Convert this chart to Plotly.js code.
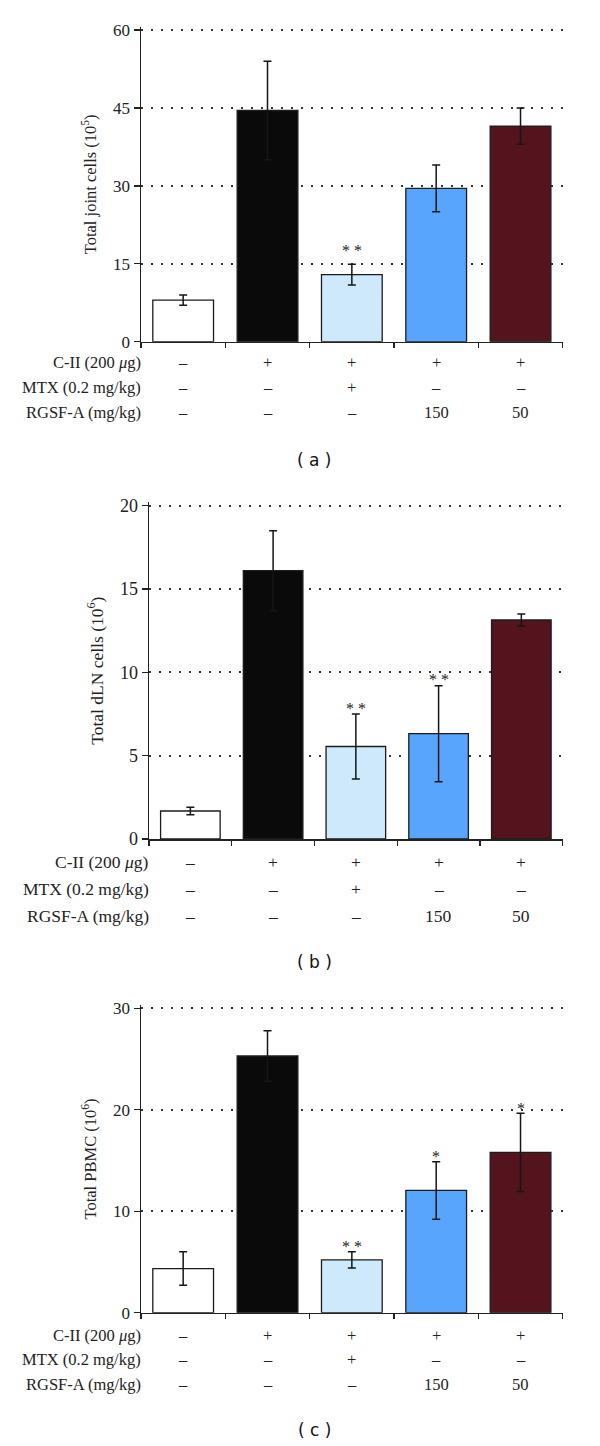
<!DOCTYPE html>
<html><head><meta charset="utf-8">
<script src="https://cdn.plot.ly/plotly-3.0.1.min.js"></script>
<style>html,body{margin:0;padding:0;background:#fff}#chart{width:600px;height:1446px}</style>
</head><body><div id="chart"></div>
<script>
// ---- data ----
const groups = [0, 1, 2, 3, 4];
const barColors = ['#ffffff', '#0a0a0a', '#cde9fb', '#58a5fd', '#53141e'];

const jointCells = [8.0, 44.5, 12.9, 29.5, 41.5];
const jointErr   = [1.0, 9.5, 2.0, 4.5, 3.5];
const jointSig   = ['', '', '* *', '', ''];

const dlnCells = [1.68, 16.1, 5.55, 6.32, 13.14];
const dlnErr   = [0.23, 2.4, 1.95, 2.88, 0.36];
const dlnSig   = ['', '', '* *', '* *', ''];

const pbmcCells = [4.35, 25.3, 5.2, 12.05, 15.8];
const pbmcErr   = [1.65, 2.5, 0.8, 2.83, 3.85];
const pbmcSig   = ['', '', '* *', '*', '*'];

const rowLabels = ['C-II (200 <i>\u03bc</i>g)', 'MTX (0.2 mg/kg)', 'RGSF-A (mg/kg)'];
const rowCII  = ['\u2013', '+', '+', '+', '+'];
const rowMTX  = ['\u2013', '\u2013', '+', '\u2013', '\u2013'];
const rowRGSF = ['\u2013', '\u2013', '\u2013', '150', '50'];

const panelLetters = ['( a )', '( b )', '( c )'];
const yTitles = ['Total joint cells (10<sup>5</sup>)', 'Total dLN cells (10<sup>6</sup>)', 'Total PBMC (10<sup>6</sup>)'];
const yMax = [60, 20, 30];
const yDticks = [15, 5, 10];

// ---- layout geometry (px) ----
const W = 600, H = 1446;
const PAD = 1.01; // small headroom so the top dotted gridline is not clipped
const SERIF = 'Liberation Serif, Times New Roman, serif';
const SANS = 'DejaVu Sans, Verdana, sans-serif';
const panels = [
  {vals: jointCells, err: jointErr, sig: jointSig, x0: 141, x1: 562.7, top: 30, bottom: 341.7,
   rows: [362.5, 388, 412.5], letterY: 460, font: 16.5, tick: 17, sigShift: 10},
  {vals: dlnCells, err: dlnErr, sig: dlnSig, x0: 149, x1: 562.7, top: 505.7, bottom: 839,
   rows: [861.5, 889, 916], letterY: 962, font: 17.5, tick: 18, sigShift: 2},
  {vals: pbmcCells, err: pbmcErr, sig: pbmcSig, x0: 141, x1: 562.7, top: 1008.3, bottom: 1312.7,
   rows: [1335, 1359.5, 1384.3], letterY: 1430, font: 16.5, tick: 17, sigShift: 1}
];
const rowsData = [rowCII, rowMTX, rowRGSF];

const traces = [];
const annotations = [];
const layout = {
  width: W, height: H,
  margin: {l: 0, r: 0, t: 0, b: 0},
  paper_bgcolor: '#ffffff', plot_bgcolor: '#ffffff',
  showlegend: false,
  font: {family: SERIF, color: '#222'}
};

panels.forEach((p, k) => {
  const s = k === 0 ? '' : String(k + 1);
  const topPx = p.bottom - (p.bottom - p.top) * PAD;
  traces.push({
    type: 'bar', x: groups, y: p.vals,
    xaxis: 'x' + s, yaxis: 'y' + s,
    width: 0.72,
    marker: {color: barColors, line: {color: '#1c1c1c', width: 1.3}},
    error_y: {type: 'data', array: p.err, visible: true, color: '#161616', thickness: 1.5, width: 4},
    hoverinfo: 'skip'
  });
  layout['xaxis' + s] = {
    domain: [p.x0 / W, p.x1 / W], range: [-0.5, 4.5],
    tickvals: [-0.5, 0.5, 1.5, 2.5, 3.5, 4.5],
    ticks: 'outside', ticklen: 5, tickwidth: 1.3, tickcolor: '#222',
    showticklabels: false, showline: true, linecolor: '#222', linewidth: 1.5,
    showgrid: false, zeroline: false, anchor: 'y' + s, fixedrange: true
  };
  layout['yaxis' + s] = {
    domain: [1 - p.bottom / H, 1 - topPx / H],
    range: [0, yMax[k] * PAD], dtick: yDticks[k], tick0: 0,
    ticks: 'outside', ticklen: 6, tickwidth: 1.3, tickcolor: '#222',
    showline: true, linecolor: '#222', linewidth: 1.5,
    showgrid: true, gridcolor: '#333', gridwidth: 1.8, griddash: '1.8px,8.2px',
    zeroline: false, anchor: 'x' + s, fixedrange: true,
    tickfont: {family: SERIF, size: p.tick, color: '#222'},
    title: {text: yTitles[k], font: {family: SERIF, size: p.font, color: '#222'}, standoff: 12}
  };
  // significance markers
  p.sig.forEach((t, i) => {
    if (!t) return;
    annotations.push({
      xref: 'x' + s, yref: 'y' + s, x: groups[i], y: p.vals[i] + p.err[i],
      text: t, showarrow: false, yanchor: 'middle', xanchor: 'center', yshift: p.sigShift + 4,
      font: {family: SERIF, size: 16, color: '#222'}
    });
  });
  // treatment table
  rowLabels.forEach((lab, r) => {
    annotations.push({
      xref: 'paper', yref: 'paper', x: p.x0 / W, y: 1 - p.rows[r] / H,
      xanchor: 'right', yanchor: 'middle', xshift: 2, text: lab, showarrow: false,
      font: {family: SERIF, size: p.font, color: '#222'}
    });
    rowsData[r].forEach((sym, i) => {
      annotations.push({
        xref: 'x' + s, yref: 'paper', x: groups[i], y: 1 - p.rows[r] / H,
        xanchor: 'center', yanchor: 'middle', text: sym, showarrow: false,
        font: {family: SERIF, size: p.font, color: '#222'}
      });
    });
  });
  // panel letter
  annotations.push({
    xref: 'paper', yref: 'paper', x: 314 / W, y: 1 - p.letterY / H,
    xanchor: 'center', yanchor: 'middle', text: panelLetters[k], showarrow: false,
    font: {family: SANS, size: 17, color: '#111'}
  });
});
layout.annotations = annotations;

Plotly.newPlot('chart', traces, layout, {displayModeBar: false, staticPlot: true});
</script>
</body></html>
